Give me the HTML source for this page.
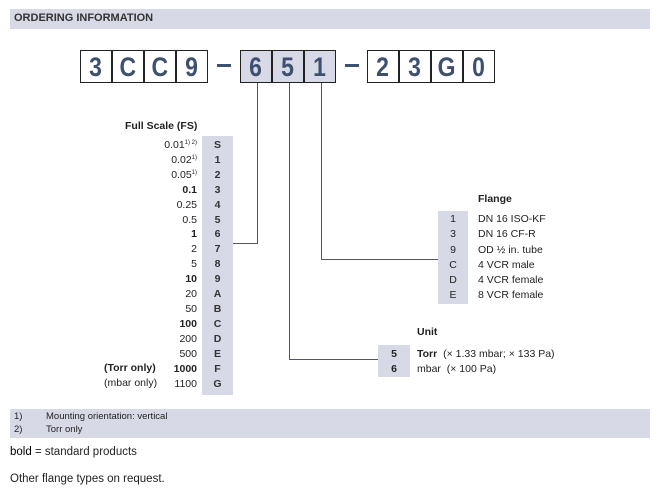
<!DOCTYPE html>
<html><head><style>
body{margin:0;width:660px;height:497px;background:#fff;font-family:"Liberation Sans",sans-serif;color:#222;position:relative;overflow:hidden}
.a{position:absolute;white-space:nowrap}
.box{position:absolute;top:50px;width:30px;height:31px;border:1px solid #222;font-weight:bold;font-size:27px;color:#3d5070;text-align:center;line-height:32px;box-sizing:content-box}
.box span{display:inline-block;transform:scaleX(0.85)}
.g{background:#d8d9e6}
.col{position:absolute;background:#d8d9e6}
.r{font-size:10.5px;line-height:14.9px}
.r sup{font-size:6px;line-height:0;vertical-align:0;position:relative;top:-4px}
.ln{position:absolute;background:#556}
</style></head><body>
<div class="a" style="left:10px;top:9px;width:640px;height:20px;background:#d8d9e6"></div>
<div class="a" style="left:14px;top:12px;font-size:11px;font-weight:bold;color:#333">ORDERING INFORMATION</div>

<div class="box" style="left:80px"><span>3</span></div>
<div class="box" style="left:112px"><span>C</span></div>
<div class="box" style="left:144px"><span>C</span></div>
<div class="box" style="left:176px"><span>9</span></div>
<div class="a" style="left:217px;top:64px;width:14px;height:3px;background:#3d5070"></div>
<div class="box g" style="left:240px"><span>6</span></div>
<div class="box g" style="left:272px"><span>5</span></div>
<div class="box g" style="left:304px"><span>1</span></div>
<div class="a" style="left:345px;top:64px;width:14px;height:3px;background:#3d5070"></div>
<div class="box" style="left:367px"><span>2</span></div>
<div class="box" style="left:399px"><span>3</span></div>
<div class="box" style="left:431px"><span>G</span></div>
<div class="box" style="left:463px"><span>0</span></div>

<div class="ln" style="left:257px;top:83px;width:1px;height:161px"></div>
<div class="ln" style="left:233px;top:243px;width:25px;height:1px"></div>
<div class="ln" style="left:289px;top:83px;width:1px;height:277px"></div>
<div class="ln" style="left:289px;top:359px;width:89px;height:1px"></div>
<div class="ln" style="left:321px;top:83px;width:1px;height:176px"></div>
<div class="ln" style="left:321px;top:259px;width:117px;height:1px"></div>

<div class="a" style="left:125px;top:120px;font-size:10.5px;font-weight:bold">Full Scale (FS)</div>
<div class="col" style="left:202px;top:136px;width:31px;height:259px"></div>
<div class="a r" style="right:463px;top:138px;text-align:right">0.01<sup>1) 2)</sup><br>0.02<sup>1)</sup><br>0.05<sup>1)</sup><br><b>0.1</b><br>0.25<br>0.5<br><b>1</b><br>2<br>5<br><b>10</b><br>20<br>50<br><b>100</b><br>200<br>500<br><b>1000</b><br>1100</div>
<div class="a r" style="left:202px;width:31px;top:138px;text-align:center;font-weight:bold;color:#333">S<br>1<br>2<br>3<br>4<br>5<br>6<br>7<br>8<br>9<br>A<br>B<br>C<br>D<br>E<br>F<br>G</div>
<div class="a r" style="left:104px;top:361px"><b>(Torr only)</b><br>(mbar only)</div>

<div class="a" style="left:478px;top:193px;font-size:10.5px;font-weight:bold">Flange</div>
<div class="col" style="left:438px;top:211px;width:30px;height:93px"></div>
<div class="a r" style="left:438px;width:30px;top:212px;text-align:center;line-height:15.3px">1<br>3<br>9<br>C<br>D<br>E</div>
<div class="a r" style="left:478px;top:212px;line-height:15.3px">DN 16 ISO-KF<br>DN 16 CF-R<br>OD ½ in. tube<br>4 VCR male<br>4 VCR female<br>8 VCR female</div>

<div class="a" style="left:417px;top:326px;font-size:10.5px;font-weight:bold">Unit</div>
<div class="col" style="left:378px;top:345px;width:32px;height:32px"></div>
<div class="a r" style="left:378px;width:32px;top:347px;text-align:center;font-weight:bold;line-height:15px">5<br>6</div>
<div class="a r" style="left:417px;top:347px;line-height:15px"><b>Torr</b>&nbsp; (× 1.33 mbar; × 133 Pa)<br>mbar&nbsp; (× 100 Pa)</div>

<div class="a" style="left:10px;top:409px;width:640px;height:29px;background:#d8d9e6"></div>
<div class="a" style="left:14px;top:410px;font-size:9.5px;line-height:13px">1)<br>2)</div>
<div class="a" style="left:46px;top:410px;font-size:9.5px;line-height:13px">Mounting orientation: vertical<br>Torr only</div>
<div class="a" style="left:10px;top:446px;font-size:11.5px"><span style="color:#000">bold</span> = standard products</div>
<div class="a" style="left:10px;top:473px;font-size:11.5px">Other flange types on request.</div>
</body></html>
